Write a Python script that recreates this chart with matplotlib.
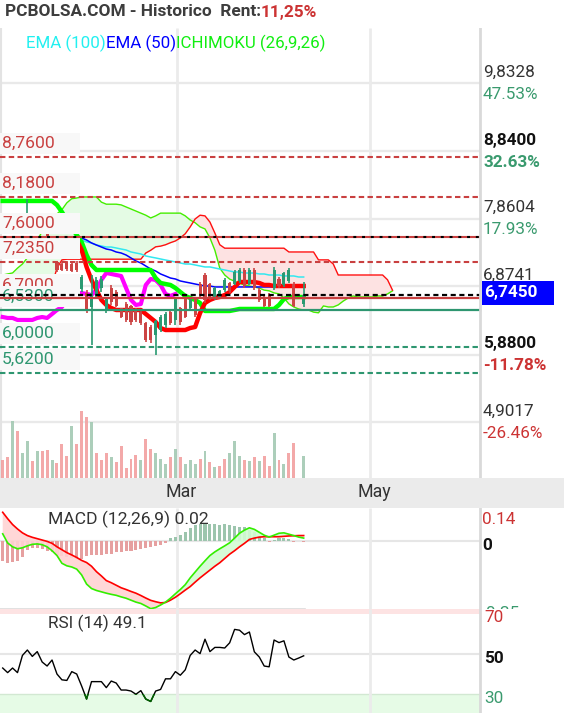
import numpy as np
import matplotlib
matplotlib.use("Agg")
import matplotlib.pyplot as plt
from matplotlib.patches import Rectangle

plt.rcParams['font.family'] = ['Roboto', 'DejaVu Sans']
nan = np.nan

# ---------------- sessions (one per bar) ----------------
opens = [7.88, 7.80, 7.72, 7.86, 7.74, 7.88, 7.90, 7.73, 7.82, 7.66,
         7.42, 7.22, 7.20, 7.22, 7.20, 7.21, 6.84, 6.78, 6.58, 6.75,
         6.86, 6.53, 6.85, 6.79, 6.55, 6.62, 6.58, 6.53, 6.50, 6.34,
         6.28, 6.17, 6.24, 6.31, 6.50, 6.39, 6.55, 6.69, 6.56, 6.68,
         6.91, 7.03, 6.90, 6.71, 6.72, 6.82, 6.92, 6.92, 6.95, 7.11,
         6.92, 7.11, 6.82, 6.72, 6.75, 6.85, 6.98, 6.90, 6.95, 6.91,
         nan, 6.62]
highs = [7.92, 7.85, 7.90, 7.90, 7.92, 8.15, 7.92, 7.88, 7.85, 7.70,
         7.56, 7.24, 7.22, 7.24, 7.23, 7.24, 7.04, 6.82, 7.04, 7.01,
         7.02, 6.72, 6.90, 6.82, 6.56, 6.65, 6.60, 6.56, 6.53, 6.36,
         6.31, 6.39, 6.46, 6.50, 6.53, 6.72, 6.58, 6.72, 6.72, 6.71,
         6.94, 7.07, 6.92, 6.87, 6.82, 7.00, 6.94, 7.11, 7.14, 7.14,
         7.14, 7.14, 6.85, 6.75, 6.78, 7.16, 7.01, 7.08, 7.14, 6.94,
         nan, 6.94]
lows = [7.72, 7.70, 7.70, 7.70, 7.72, 7.80, 7.70, 7.70, 7.68, 7.45,
        7.30, 7.08, 7.10, 7.10, 7.08, 7.08, 6.79, 6.49, 6.02, 6.72,
        6.80, 6.49, 6.60, 6.58, 6.42, 6.36, 6.31, 6.36, 6.31, 6.07,
        6.05, 5.88, 6.21, 6.27, 6.31, 6.31, 6.31, 6.42, 6.53, 6.43,
        6.72, 6.63, 6.68, 6.68, 6.71, 6.79, 6.78, 6.90, 6.92, 6.85,
        6.90, 6.82, 6.65, 6.58, 6.58, 6.82, 6.85, 6.87, 6.92, 6.58,
        nan, 6.58]
closes = [7.75, 7.72, 7.86, 7.74, 7.88, 7.92, 7.73, 7.85, 7.70, 7.48,
          7.50, 7.12, 7.12, 7.13, 7.10, 7.11, 7.00, 6.53, 6.78, 6.97,
          6.98, 6.68, 6.65, 6.60, 6.44, 6.39, 6.36, 6.39, 6.34, 6.10,
          6.10, 6.36, 6.43, 6.47, 6.34, 6.68, 6.36, 6.44, 6.69, 6.46,
          6.75, 6.68, 6.71, 6.84, 6.81, 6.97, 6.81, 7.08, 7.11, 6.88,
          7.11, 6.85, 6.68, 6.60, 6.60, 7.11, 6.88, 7.06, 7.11, 6.60,
          nan, 6.745]
volumes = [177, 207, 567, 467, 247, 367, 167, 267, 267, 277,
           177, 147, 337, 217, 517, 337, 667, 610, 557, 247,
           177, 247, 207, 157, 317, 97, 187, 227, 177, 387,
           287, 247, 187, 137, 207, 287, 207, 137, 177, 137,
           187, 267, 157, 107, 117, 187, 247, 367, 217, 177,
           167, 207, 167, 217, 117, 447, 177, 137, 247, 347,
           0, 217]
vol_dir = "ddudu" "ududd" "udddu" "dddud" "ddudd" "dddud" "duuud" "uduuu" "dudud" "duuud" "ududd" "ududd" "nu"

# ---------------- Ichimoku (26,9,26) and EMAs ----------------
senkou_a = [7.04, 7.055, 7.07, 7.14, 7.20, 7.29, 7.40, 7.55, 7.67, 7.77,
            7.87, 7.93, 7.99, 8.09, 8.15, 8.16, 8.175, 8.175, 8.175, 8.175,
            8.10, 8.07, 8.07, 8.07, 8.06, 8.03, 8.00, 7.97, 7.94, 7.91,
            7.87, 7.90, 7.94, 7.94, 7.94, 7.94, 7.94, 7.90, 7.84, 7.80,
            7.74, 7.71, 7.58, 7.40, 7.14, 7.04, 6.98, 6.95, 6.92, 6.895,
            6.88, 6.865, 6.85, 6.82, 6.81, 6.78, 6.765, 6.705, 6.62, 6.575,
            6.545, 6.53, 6.53, 6.50, 6.49, 6.59, 6.575, 6.575, 6.605, 6.66,
            6.705, 6.735, 6.72, 6.72, 6.72, 6.72, 6.735, 6.735, 6.765, 6.81]
senkou_b = [6.895, 6.895, 6.895, 6.895, 6.895, 6.895, 6.895, 6.895, 6.895, 6.895,
            6.895, 7.14, 7.26, 7.27, 7.27, 7.27, 7.27, 7.27, 7.27, 7.27,
            7.27, 7.27, 7.27, 7.27, 7.27, 7.27, 7.27, 7.27, 7.27, 7.36,
            7.40, 7.45, 7.46, 7.48, 7.51, 7.535, 7.58, 7.64, 7.74, 7.855,
            7.91, 7.90, 7.81, 7.65, 7.48, 7.43, 7.43, 7.43, 7.43, 7.43,
            7.43, 7.43, 7.43, 7.43, 7.43, 7.43, 7.43, 7.43, 7.375, 7.375,
            7.375, 7.375, 7.375, 7.375, 7.26, 7.26, 7.26, 7.20, 7.04, 7.04,
            7.04, 7.04, 7.04, 7.04, 7.04, 7.04, 7.04, 7.04, 6.97, 6.82]
kijun = [8.117, 8.117, 8.117, 8.117, 8.117, 8.117, 8.117, 8.117, 8.117, 8.117,
         8.117, 8.058, 7.957, 7.840, 7.724, 7.622, 7.520, 7.331, 7.186, 7.113,
         7.113, 7.113, 7.113, 7.113, 7.113, 7.113, 7.113, 7.113, 7.113, 7.113,
         7.113, 6.996, 6.924, 6.909, 6.895, 6.851, 6.793, 6.735, 6.706, 6.677,
         6.633, 6.517, 6.517, 6.517, 6.517, 6.517, 6.517, 6.531, 6.546, 6.546,
         6.546, 6.546, 6.546, 6.546, 6.546, 6.546, 6.604, 6.691, 6.720, 6.720,
         6.720, 6.720]
tenkan = [nan, nan, nan, nan, nan, nan, nan, nan, nan, nan,
          nan, nan, nan, nan, nan, 7.549, 7.404, 7.157, 6.967, 6.822,
          6.677, 6.604, 6.560, 6.531, 6.531, 6.531, 6.531, 6.531, 6.531, 6.473,
          6.415, 6.357, 6.269, 6.240, 6.240, 6.240, 6.240, 6.240, 6.269, 6.284,
          6.487, 6.633, 6.677, 6.706, 6.720, 6.749, 6.793, 6.866, 6.938, 6.938,
          6.938, 6.938, 6.924, 6.895, 6.895, 6.880, 6.880, 6.880, 6.880, 6.880,
          6.880, 6.880]
chikou = [6.429, 6.415, 6.415, 6.386, 6.386, 6.386, 6.386, 6.415, 6.429, 6.415,
          6.473, 6.531, 6.575, 6.677, 6.735, 6.778, 6.778, 6.764, 6.749, 6.822,
          6.967, 7.069, 7.055, 7.040, 7.026, 6.851, 6.677, 6.604, 6.618, 6.895,
          6.982, 6.967, 6.895, 6.764, 6.735, 6.764]
ema50 = [nan, nan, nan, nan, nan, nan, nan, nan, nan, nan,
         nan, nan, nan, nan, nan, nan, 7.578, 7.549, 7.506, 7.476,
         7.447, 7.418, 7.404, 7.375, 7.360, 7.331, 7.288, 7.244, 7.215, 7.171,
         7.127, 7.098, 7.055, 7.026, 6.996, 6.982, 6.953, 6.938, 6.924, 6.909,
         6.895, 6.880, 6.880, 6.866, 6.866, 6.866, 6.866, 6.866, 6.866, 6.866,
         6.866, 6.866, 6.866, 6.866, 6.866, 6.866, 6.866, 6.866, 6.866, 6.866,
         6.866, 6.866]
ema100 = [nan, nan, nan, nan, nan, nan, nan, nan, nan, nan,
          nan, nan, nan, nan, nan, nan, 7.549, 7.520, 7.506, 7.476,
          7.462, 7.447, 7.447, 7.433, 7.418, 7.404, 7.375, 7.360, 7.346, 7.317,
          7.302, 7.288, 7.273, 7.258, 7.244, 7.229, 7.215, 7.200, 7.200, 7.186,
          7.171, 7.157, 7.157, 7.142, 7.127, 7.113, 7.098, 7.084, 7.084, 7.069,
          7.069, 7.069, 7.055, 7.055, 7.040, 7.040, 7.040, 7.026, 7.026, 7.026,
          7.011, 7.011]

# ---------------- MACD (12,26,9) and RSI (14) ----------------
macd_line = [0.037, -0.010, -0.030, -0.040, -0.035, -0.025, -0.017, -0.015, -0.019, -0.030,
             -0.050, -0.075, -0.115, -0.128, -0.134, -0.145, -0.175, -0.222, -0.245, -0.255,
             -0.262, -0.269, -0.275, -0.280, -0.288, -0.295, -0.305, -0.315, -0.322, -0.335,
             -0.349, -0.343, -0.330, -0.315, -0.295, -0.272, -0.250, -0.225, -0.190, -0.160,
             -0.130, -0.102, -0.075, -0.056, -0.040, -0.025, -0.009, 0.015, 0.040, 0.056,
             0.068, 0.060, 0.045, 0.030, 0.020, 0.030, 0.040, 0.042, 0.035, 0.028,
             0.020, 0.015]
macd_signal = [0.148, 0.115, 0.085, 0.062, 0.042, 0.028, 0.019, 0.012, 0.005, -0.002,
               -0.012, -0.030, -0.045, -0.060, -0.072, -0.085, -0.100, -0.111, -0.130, -0.158,
               -0.180, -0.204, -0.215, -0.228, -0.241, -0.250, -0.260, -0.269, -0.281, -0.294,
               -0.306, -0.313, -0.319, -0.317, -0.305, -0.290, -0.272, -0.253, -0.235, -0.212,
               -0.190, -0.170, -0.150, -0.130, -0.112, -0.090, -0.068, -0.050, -0.030, -0.012,
               0.008, 0.015, 0.020, 0.022, 0.022, 0.022, 0.022, 0.024, 0.026, 0.027,
               0.028, 0.028]
macd_hist = [-0.102, -0.111, -0.108, -0.102, -0.080, -0.046, -0.037, -0.037, -0.041, -0.052,
             -0.059, -0.070, -0.078, -0.085, -0.089, -0.093, -0.093, -0.078, -0.074, -0.070,
             -0.070, -0.067, -0.065, -0.059, -0.056, -0.052, -0.050, -0.046, -0.041, -0.037,
             -0.033, -0.028, -0.019, -0.009, 0.015, 0.022, 0.033, 0.046, 0.065, 0.083,
             0.089, 0.089, 0.089, 0.089, 0.085, 0.087, 0.083, 0.078, 0.070, 0.070,
             0.059, 0.046, 0.028, 0.015, -0.004, 0.006, 0.013, 0.015, 0.009, -0.004,
             0.0, -0.007]
rsi = [43, 40.7, 43, 40.7, 49.3, 52, 48.8, 51.2, 46, 44,
       47, 40, 37.1, 36.8, 41.2, 40, 34, 27.5, 36.2, 36.2,
       36.2, 33.2, 36.5, 35.5, 32, 32, 31.5, 29.9, 31.7, 27.5,
       26.3, 31.5, 32.3, 37.6, 37.6, 41.2, 39.4, 42.1, 49.3, 52,
       50.2, 57.4, 51.2, 53.3, 53.3, 53, 55.6, 62.3, 61.9, 59.7,
       61, 51.1, 48.5, 44, 43.6, 57, 55.7, 56.6, 48.5, 47,
       48, 49.1]

month_labels = ["Mar", "May"]
month_pos = [35.3, 74.4]

grid_levels = [9.8328, 8.84, 7.8604, 6.8741, 5.88, 4.9017]
grid_values = ["9,8328", "8,8400", "7,8604", "6,8741", "5,8800", "4,9017"]
grid_pcts = ["47.53%", "32.63%", "17.93%", "", "-11.78%", "-26.46%"]
grid_bold = [False, True, False, False, True, False]

levels = [8.76, 8.18, 7.60, 7.235, 6.70, 6.53, 6.00, 5.62]
level_labels = ["8,7600", "8,1800", "7,6000", "7,2350", "6,7000", "6,5300", "6,0000", "5,6200"]
level_kind = ["r-dash", "r-dash", "r-blk", "r-dash", "r-solid", "g-solid", "g-dash", "g-dash"]
last_price = 6.745
last_label = "6,7450"
rent_txt = "11,25%"
macd_title = "MACD (12,26,9) 0.02"
rsi_title = "RSI (14) 49.1"

# ---------------- layout ----------------
W, H = 564, 713
fig = plt.figure(figsize=(W / 100, H / 100), dpi=100)
fig.patch.set_facecolor('white')
BAR0, BARW = 2.7, 4.934


def ix(px):
    return (px - BAR0) / BARW


XL, XF, XR = ix(0), ix(W), ix(480)


def frect(top, bot):
    return [0, 1 - bot / H, 1, (bot - top) / H]


PPU = 68.75
P_TOP = 9.8328 + (83 - 28) / PPU
P_BOT = 9.8328 - (478 - 83) / PPU

RED = '#c94040'
GRN = '#2e9670'
GRID = '#e9e9e9'
FS_R = 12.3

idx = np.arange(len(closes))
o, h, l, c = map(np.array, (opens, highs, lows, closes))

# grid axes (under volume)
axg = fig.add_axes(frect(28, 478))
axg.set_xlim(XL, XF); axg.set_ylim(P_BOT, P_TOP); axg.axis('off')
axg.hlines(grid_levels, XL, XR, colors=GRID, lw=1.7)
axg.vlines(month_pos, P_BOT, P_TOP, colors='#ebebeb', lw=2)
axg.plot([ix(1), ix(1)], [P_BOT, P_TOP], color='#e3e3e3', lw=1.5)

# volume
axv = fig.add_axes(frect(28, 478))
axv.set_xlim(XL, XF); axv.set_ylim(0, 4500); axv.axis('off')
vcol = ['#f2a0a0' if d == 'd' else '#a3c9b3' for d in vol_dir]
axv.bar(idx, volumes, width=0.6, color=vcol, alpha=0.9, lw=0)

# price
ax = fig.add_axes(frect(28, 478))
ax.set_xlim(XL, XF); ax.set_ylim(P_BOT, P_TOP); ax.axis('off')

xc = np.arange(len(senkou_a))
A = np.array(senkou_a); B = np.array(senkou_b)
ax.fill_between(xc, A, B, where=A >= B, interpolate=True, color='#e4fbe4', lw=0, zorder=1)
ax.fill_between(xc, A, B, where=B > A, interpolate=True, color='#fde2e2', lw=0, zorder=1)
ax.plot(xc, A, color='#44ee00', lw=1.0, zorder=2)
ax.plot(xc, B, color='#ff1010', lw=1.0, zorder=2)

ax.plot(idx, ema100, color='#33e8f0', lw=1.1, zorder=3)
ax.plot(idx, ema50, color='#0000ff', lw=1.1, zorder=3)
ax.plot(np.arange(len(chikou)), chikou, color='#ff00ff', lw=3.0, zorder=4)
ax.plot(idx, kijun, color='#00ff00', lw=3.2, zorder=4)
ax.plot(idx, tenkan, color='#ff0000', lw=3.2, zorder=4)

valid = ~np.isnan(o)
ccol = np.where(c >= o, '#2a9a72', '#cc4444')
ax.vlines(idx[valid], l[valid], h[valid], colors=ccol[valid], lw=1.2, zorder=5)
ax.bar(idx[valid], np.abs(c - o)[valid] + 0.008, bottom=np.minimum(o, c)[valid] - 0.004,
       width=0.62, color=ccol[valid], lw=0, zorder=5)

# level label boxes
for k, (lv, lab, kind) in enumerate(zip(levels, level_labels, level_kind)):
    col = RED if kind.startswith('r') else GRN
    ax.add_patch(Rectangle((XL, lv + 3 / PPU), ix(80) - XL, 21 / PPU,
                           facecolor='#f8f8f8', edgecolor='none', zorder=10 + k))
    ax.text(ix(2), lv + 13.5 / PPU, lab, color=col, fontsize=12.6, va='center',
            ha='left', zorder=10.5 + k)

# level lines
for lv, kind in zip(levels, level_kind):
    col = RED if kind.startswith('r') else GRN
    if kind.endswith('dash'):
        ax.plot([XL, XR], [lv, lv], color=col, lw=1.5, ls=(0, (2.6, 1.6)), zorder=30)
    elif kind.endswith('solid'):
        ax.plot([XL, XR], [lv, lv], color=col, lw=1.6, zorder=30)
    else:
        ax.plot([XL, XR], [lv, lv], color=col, lw=1.5, zorder=30)
        ax.plot([XL, XR], [lv, lv], color='black', lw=1.5, ls=(2.6, (1.4, 2.8)), zorder=31)
ax.plot([XL, XR], [last_price, last_price], color='black', lw=1.6, ls=(0, (2.3, 1.6)), zorder=32)

# right axis labels
for lv, v, p, b in zip(grid_levels, grid_values, grid_pcts, grid_bold):
    ax.text(ix(483), lv + 11 / PPU, v, fontsize=FS_R, fontweight='bold' if b else 'normal',
            color='#111111' if b else '#333333', va='center', ha='left')
    if p:
        ax.text(ix(483), lv - 11 / PPU, p, fontsize=FS_R, fontweight='bold' if b else 'normal',
                color=('#cc3333' if p.startswith('-') else '#3a9a6e'), va='center', ha='left')
ax.add_patch(Rectangle((ix(482), last_price - 9.7 / PPU), ix(554) - ix(482), 24 / PPU,
                       facecolor='#0000ff', edgecolor='none', zorder=40))
ax.text(ix(484.5), last_price + 2.3 / PPU, last_label, color='white', fontweight='bold',
        fontsize=FS_R, va='center', ha='left', zorder=41)
ax.plot([XR, XR], [P_BOT, P_TOP], color='#d9d9d9', lw=2, zorder=45)

# date band
fig.patches.append(Rectangle((0, 1 - 508 / H), 1, 30 / H, transform=fig.transFigure,
                             facecolor='#ebebeb', edgecolor='none', zorder=1))
for lab, px in zip(month_labels, [181, 374]):
    fig.text(px / W, 1 - 492 / H, lab, fontsize=12.8, color='#333333', ha='center', va='center')

# title and legend
r = fig.canvas.get_renderer()
t1 = fig.text(5 / W, 1 - 12 / H, "PCBOLSA.COM - Historico  Rent:", fontsize=12.4,
              fontweight='bold', color='#3d3d3d', va='center', ha='left')
bb = t1.get_window_extent(r)
fig.text(bb.x1 / W, 1 - 12 / H, rent_txt, fontsize=12.4, fontweight='bold', color='#cc3333',
         va='center', ha='left')
xpos = 26
for txt, col in [("EMA (100)", '#22f0f0'), ("EMA (50)", '#0000ff'), ("ICHIMOKU (26,9,26)", '#11ee11')]:
    t = fig.text(xpos / W, 1 - 43 / H, txt, fontsize=12.2, color=col, va='center', ha='left')
    xpos = t.get_window_extent(r).x1

# ---------------- MACD panel ----------------
M_TOP = (541 - 508) / 194
M_BOT = -(609 - 541) / 194
axm = fig.add_axes(frect(508, 609))
axm.set_xlim(XL, XF); axm.set_ylim(M_BOT, M_TOP); axm.axis('off')
axm.plot([XL, XR], [0, 0], color='#e6e6e6', lw=1.5, zorder=0)
axm.plot([XL, ix(305)], [-0.35, -0.35], color='#dcdcdc', lw=1.2, zorder=0)
axm.vlines(month_pos, M_BOT, M_TOP, colors='#ebebeb', lw=2, zorder=0)
mh = np.array(macd_hist)
axm.bar(idx, mh, width=0.62, color=np.where(mh < 0, '#e6a0a0', '#9cc5ad'), lw=0, zorder=1)
ml = np.array(macd_line); ms = np.array(macd_signal)
axm.fill_between(idx, ml, ms, where=ms >= ml, interpolate=True, color='#ffd3d3', alpha=0.9, lw=0, zorder=2)
axm.fill_between(idx, ml, ms, where=ml > ms, interpolate=True, color='#d3fbd3', alpha=0.9, lw=0, zorder=2)
axm.plot(idx, ms, color='#ff0000', lw=1.2, zorder=3)
axm.plot(idx, ml, color='#33ee00', lw=1.2, zorder=3)
axm.text(ix(48), (541 - 519) / 194, macd_title, fontsize=12.6, color='#333333', va='center', ha='left', zorder=5)
axm.text(ix(482), (541 - 519) / 194, "0.14", fontsize=12.3, color='#cc3333', va='center', ha='left')
axm.text(ix(482), (541 - 545) / 194, "0", fontsize=12.3, fontweight='bold', color='#111111', va='center', ha='left')
axm.text(ix(482), (541 - 613) / 194, "-0.35", fontsize=12.3, color='#3a9a6e', va='center', ha='left', clip_on=True)
axm.plot([XR, XR], [M_BOT, M_TOP], color='#d9d9d9', lw=2, zorder=6)

# ---------------- RSI panel ----------------
R_TOP = 70 + (614 - 609) / 2.005
R_BOT = 30 - (713 - 694) / 2.005
axr = fig.add_axes(frect(609, 713))
axr.set_xlim(XL, XF); axr.set_ylim(R_BOT, R_TOP); axr.axis('off')
axr.add_patch(Rectangle((XL, R_BOT), XR - XL, 30 - R_BOT, facecolor='#e6fbe6', edgecolor='none', zorder=0))
axr.add_patch(Rectangle((XL, 70), XR - XL, R_TOP - 70, facecolor='#fde3e3', edgecolor='none', zorder=0))
axr.plot([XL, XR], [30, 30], color='#d2e8d2', lw=1, zorder=0.5)
axr.plot([XL, XR], [50, 50], color='#e6e6e6', lw=1.5, zorder=0.5)
axr.vlines(month_pos, R_BOT, R_TOP, colors='#ebebeb', lw=2, zorder=0.6)
axr.plot(idx, rsi, color='black', lw=1.0, zorder=3)
g, = axr.plot(idx, rsi, color='#006400', lw=1.1, zorder=4)
clip = Rectangle((XL, R_BOT), XR - XL, 30 - R_BOT, transform=axr.transData, facecolor='none')
g.set_clip_path(clip)
axr.text(ix(48), 70 - (623 - 614) / 2.005, rsi_title, fontsize=12.4, color='#333333', va='center', ha='left', zorder=5)
axr.text(ix(484), 70 - 4 / 2.005, "70", fontsize=12.3, color='#cc3333', va='center', ha='left')
axr.text(ix(484), 50 - 4 / 2.005, "50", fontsize=12.3, fontweight='bold', color='#111111', va='center', ha='left')
axr.text(ix(484), 30 - 4 / 2.005, "30", fontsize=12.3, color='#3a9a6e', va='center', ha='left')
axr.plot([XR, XR], [R_BOT, R_TOP], color='#d9d9d9', lw=2, zorder=6)

fig.savefig("out.png", dpi=100, facecolor='white')
